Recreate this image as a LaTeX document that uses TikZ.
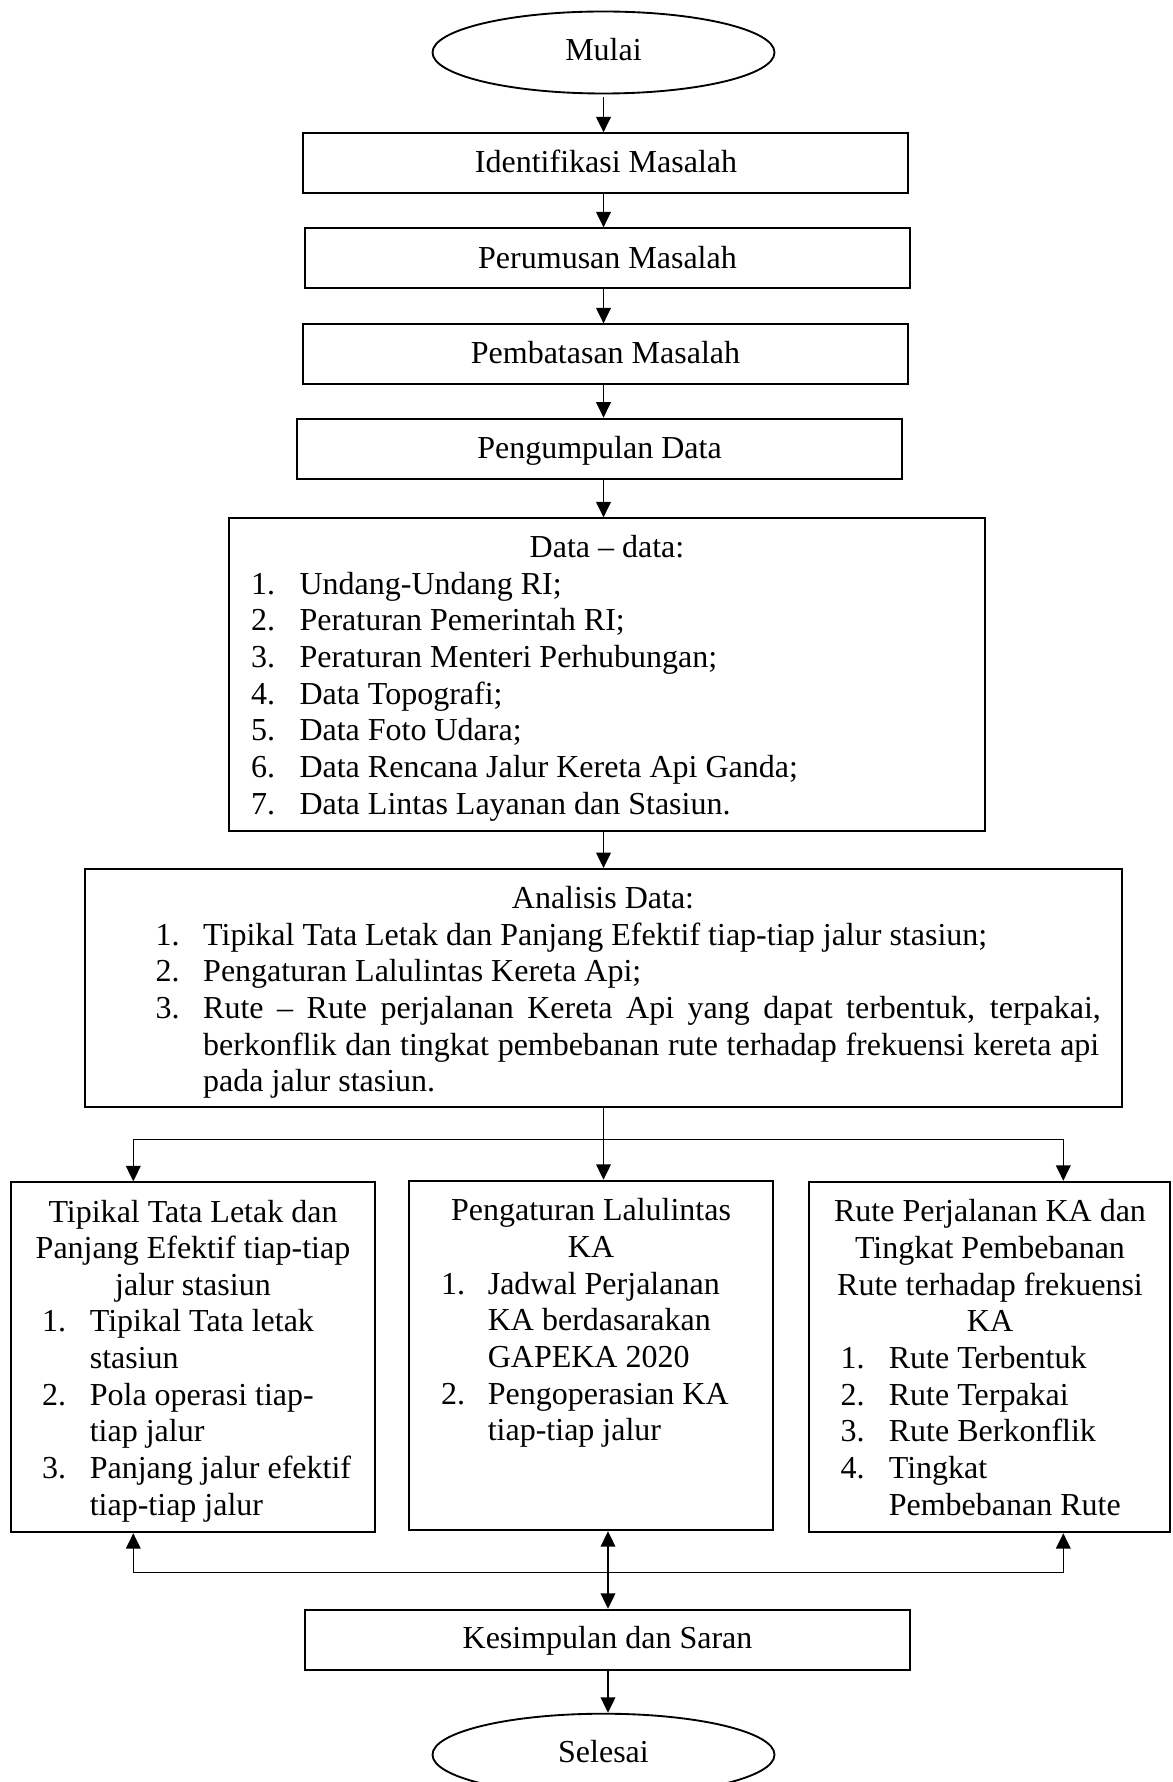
\documentclass[tikz,border=0pt]{standalone}
\usepackage{fontspec}
\setmainfont{Liberation Serif}[Ligatures=CommonOff]
\usetikzlibrary{arrows.meta,shapes.geometric,fit}
\tikzset{
  box/.style={draw, line width=0.7pt, inner sep=0pt},
  term/.style={draw, ellipse, line width=0.7pt, minimum width=128.25pt, minimum height=30.75pt, inner sep=0pt},
  txt/.style={inner sep=0pt, anchor=base},
  txtl/.style={inner sep=0pt, anchor=base west},
  flow/.style={line width=0.6pt, -{Triangle[length=5.8pt,width=5.5pt]}},
  flowboth/.style={line width=0.6pt, {Triangle[length=5.8pt,width=5.5pt]}-{Triangle[length=5.8pt,width=5.5pt]}},
  thinline/.style={line width=0.45pt},
}
\begin{document}
\begin{tikzpicture}[x=0.375pt, y=-0.375pt, font=\fontsize{12pt}{13.8pt}\selectfont]
\useasboundingbox (0,0) rectangle (1172,1782);
\clip (0,0) rectangle (1172,1782);

% ---------- shapes ----------
\node[term] (mulai) at (603.5,52.5) {};
\node[box, fit={(302.7,133.3) (908.1,192.7)}] (ident) {};
\node[box, fit={(305,228.3) (910.3,288.3)}] (perum) {};
\node[box, fit={(303,324.3) (908,384.3)}] (batas) {};
\node[box, fit={(296.7,418.6) (902.1,479.3)}] (kumpul) {};
\node[box, fit={(229,518.3) (985,831)}] (data) {};
\node[box, fit={(85,869) (1121.7,1107)}] (ana) {};
\node[box, fit={(11,1182.3) (375,1532.3)}] (left) {};
\node[box, fit={(409.3,1180.7) (772.7,1530.3)}] (mid) {};
\node[box, fit={(809.3,1181.7) (1170,1532.3)}] (right) {};
\node[box, fit={(305,1609.7) (910,1669.7)}] (kes) {};
\node[term] (sel) at (603.5,1754.7) {};

% ---------- texts ----------
\node[txt] (tmulai) at (603.5,60.7) {Mulai};
\node[txt] (tident) at (606,173) {Identifikasi Masalah};
\node[txt] (tperum) at (607.5,268.3) {Perumusan Masalah};
\node[txt] (tbatas) at (605.5,364) {Pembatasan Masalah};
\node[txt] (tkumpul) at (599.5,459) {Pengumpulan Data};

\node[txt] (tdata) at (607,557) {Data – data:};
\node[txtl] (dn1) at (250.7,594.3) {1.};
\node[txtl] (d1) at (299,594.3) {Undang-Undang RI;};
\node[txtl] (dn2) at (250.7,630.7) {2.};
\node[txtl] (d2) at (299,630.7) {Peraturan Pemerintah RI;};
\node[txtl] (dn3) at (250.7,667.4) {3.};
\node[txtl] (d3) at (299,667.4) {Peraturan Menteri Perhubungan;};
\node[txtl] (dn4) at (250.7,704) {4.};
\node[txtl] (d4) at (299,704) {Data Topografi;};
\node[txtl] (dn5) at (250.7,740.7) {5.};
\node[txtl] (d5) at (299,740.7) {Data Foto Udara;};
\node[txtl] (dn6) at (250.7,777.4) {6.};
\node[txtl] (d6) at (299,777.4) {Data Rencana Jalur Kereta Api Ganda;};
\node[txtl] (dn7) at (250.7,814.1) {7.};
\node[txtl] (d7) at (299,814.1) {Data Lintas Layanan dan Stasiun.};

\node[txt] (tana) at (603,908) {Analisis Data:};
\node[txtl] (an1) at (155,945) {1.};
\node[txtl] (a1) at (202.7,945) {Tipikal Tata Letak dan Panjang Efektif tiap-tiap jalur stasiun;};
\node[txtl] (an2) at (155,981.7) {2.};
\node[txtl] (a2) at (202.7,981.7) {Pengaturan Lalulintas Kereta Api;};
\node[txtl] (an3) at (155,1018.4) {3.};
\node[txtl] (a3a) at (202.7,1018.4) {\makebox[336.6pt][s]{Rute – Rute perjalanan Kereta Api yang dapat terbentuk, terpakai,}};
\node[txtl] (a3b) at (202.7,1055.1) {\makebox[336pt][s]{berkonflik dan tingkat pembebanan rute terhadap frekuensi kereta api}};
\node[txtl] (a3c) at (202.7,1091.8) {pada jalur stasiun.};

% left box
\node[txt] (l1) at (193,1222.7) {Tipikal Tata Letak dan};
\node[txt] (l2) at (193,1258.3) {Panjang Efektif tiap-tiap};
\node[txt] (l3) at (193,1295) {jalur stasiun};
\node[txtl] (ln1) at (41.7,1331.7) {1.};
\node[txtl] (l4) at (89.3,1331.7) {Tipikal Tata letak};
\node[txtl] (l5) at (89.3,1368.3) {stasiun};
\node[txtl] (ln2) at (41.7,1405) {2.};
\node[txtl] (l6) at (89.3,1405) {Pola operasi tiap-};
\node[txtl] (l7) at (89.3,1441.7) {tiap jalur};
\node[txtl] (ln3) at (41.7,1478.3) {3.};
\node[txtl] (l8) at (89.3,1478.3) {Panjang jalur efektif};
\node[txtl] (l9) at (89.3,1515) {tiap-tiap jalur};

% middle box
\node[txt] (m1) at (591,1220.7) {Pengaturan Lalulintas};
\node[txt] (m2) at (591,1257.3) {KA};
\node[txtl] (mn1) at (440.7,1294) {1.};
\node[txtl] (m3) at (487.3,1294) {Jadwal Perjalanan};
\node[txtl] (m4) at (487.3,1330.5) {KA berdasarakan};
\node[txtl] (m5) at (487.3,1367) {GAPEKA 2020};
\node[txtl] (mn2) at (440.7,1404) {2.};
\node[txtl] (m6) at (487.3,1404) {Pengoperasian KA};
\node[txtl] (m7) at (487.3,1440.7) {tiap-tiap jalur};

% right box
\node[txt] (r1) at (990,1221.7) {Rute Perjalanan KA dan};
\node[txt] (r2) at (990,1258.3) {Tingkat Pembebanan};
\node[txt] (r3) at (990,1295) {Rute terhadap frekuensi};
\node[txt] (r4) at (990,1331.7) {KA};
\node[txtl] (rn1) at (840,1368.3) {1.};
\node[txtl] (r5) at (888.3,1368.3) {Rute Terbentuk};
\node[txtl] (rn2) at (840,1405) {2.};
\node[txtl] (r6) at (888.3,1405) {Rute Terpakai};
\node[txtl] (rn3) at (840,1441.7) {3.};
\node[txtl] (r7) at (888.3,1441.7) {Rute Berkonflik};
\node[txtl] (rn4) at (840,1478.3) {4.};
\node[txtl] (r8) at (888.3,1478.3) {Tingkat};
\node[txtl] (r9) at (888.3,1515) {Pembebanan Rute};

\node[txt] (tkes) at (607.5,1648.7) {Kesimpulan dan Saran};
\node[txt] (tsel) at (603.5,1762) {Selesai};

% ---------- connectors ----------
\coordinate (ax) at (603.5,0);
\draw[flow, shorten <=1pt] (mulai.south) -- (ax |- ident.north);
\draw[flow] (ax |- ident.south) -- (ax |- perum.north);
\draw[flow] (ax |- perum.south) -- (ax |- batas.north);
\draw[flow] (ax |- batas.south) -- (ax |- kumpul.north);
\draw[flow] (ax |- kumpul.south) -- (ax |- data.north);
\draw[flow] (ax |- data.south) -- (ax |- ana.north);

\coordinate (sl) at (133.3,1139.3);
\coordinate (sr) at (1063.3,1139.3);
\draw[thinline] (sl) -- (sr);
\draw[flow] (ax |- ana.south) -- (ax |- mid.north);
\draw[flow] (sl) -- (sl |- left.north);
\draw[flow] (sr) -- (sr |- right.north);

\coordinate (bl) at (133.3,1572.7);
\coordinate (br) at (1063.3,1572.7);
\coordinate (bx) at (608,0);
\draw[thinline] (bl) -- (br);
\draw[flow] (bl) -- (bl |- left.south);
\draw[flow] (br) -- (br |- right.south);
\draw[flowboth] (bx |- mid.south) -- (bx |- kes.north);
\draw[flow] (bx |- kes.south) -- (bx |- sel.north);
\end{tikzpicture}
\end{document}
